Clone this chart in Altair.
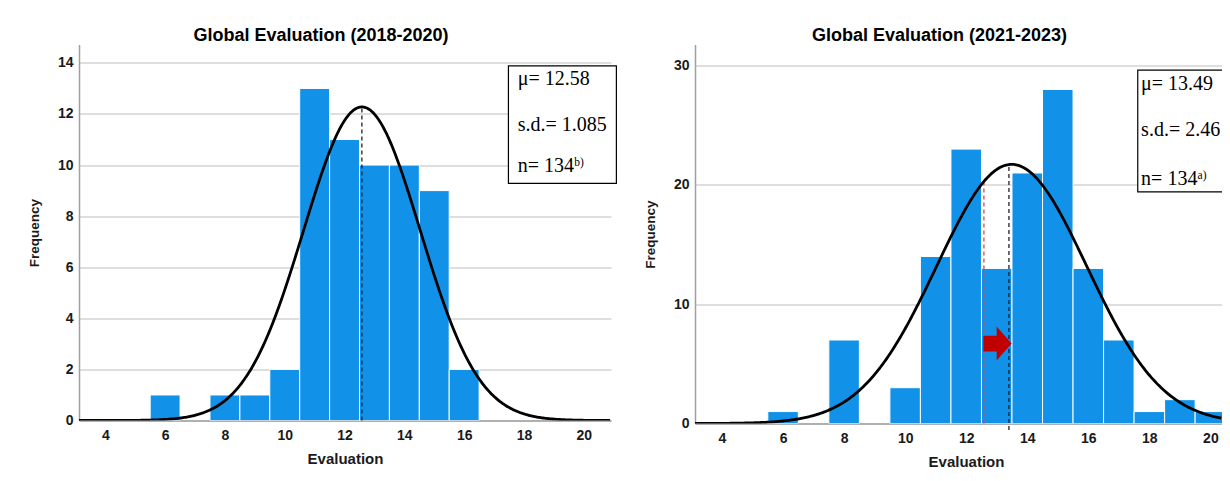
import altair as alt
import pandas as pd

# ---------------- values ----------------
LEFT_VALUES = [6, 8, 9, 10, 11, 12, 13, 14, 15, 16]
LEFT_COUNTS = [1, 1, 1, 2, 13, 11, 10, 10, 9, 2]
RIGHT_VALUES = [6, 8, 10, 11, 12, 13, 14, 15, 16, 17, 18, 19, 20]
RIGHT_COUNTS = [1, 7, 3, 14, 23, 13, 21, 28, 13, 7, 1, 2, 1]

X_TICKS = [4, 6, 8, 10, 12, 14, 16, 18, 20]
LEFT_Y_TICKS = [0, 2, 4, 6, 8, 10, 12, 14]
RIGHT_Y_TICKS = [0, 10, 20, 30]

TITLES = ["Global Evaluation (2018-2020)", "Global Evaluation (2021-2023)"]
X_TITLE = "Evaluation"
Y_TITLE = "Frequency"

# fitted normal curves as drawn: mean, sd, count
LEFT_CURVE = [12.58, 1.95, 60]
RIGHT_CURVE = [13.49, 2.461, 134]

LEFT_STATS = ["μ= 12.58", "s.d.= 1.085", "n= 134"]
RIGHT_STATS = ["μ= 13.49", "s.d.= 2.461", "n= 134"]
LEFT_SUP = "b)"
RIGHT_SUP = "a)"

# mean markers: x, bottom, top
LEFT_MEAN_LINE = [12.58, 0.0, 12.28]
RIGHT_MEAN_LINE = [13.40, -0.55, 21.72]
RIGHT_PREV_MEAN_LINE = [12.58, 0.0, 20.3]
# arrow: from x, to x, at y
RIGHT_ARROW = [12.58, 13.47, 6.7]

# ---------------- layout (scale domains, annotation anchors) ----------------
LEFT_XDOM = [3.12, 20.91]
LEFT_YDOM = [0, 14.72]
RIGHT_XDOM = [3.115, 20.38]
RIGHT_YDOM = [0, 31.77]
LEFT_W, LEFT_H = 532, 376
RIGHT_W, RIGHT_H = 527, 379

LEFT_BOX = [17.48, 21.09, 9.28, 13.88]    # x, x2, y, y2
RIGHT_BOX = [17.62, 22.0, 19.42, 29.62]
LEFT_TEXT_X = 17.79
LEFT_TEXT_Y = [13.13, 11.34, 9.73]
RIGHT_TEXT_X = 17.73
RIGHT_TEXT_Y = [27.95, 24.09, 20.03]

BAR_COLOR = "#1192e8"
FONT = "Liberation Sans"
SERIF = "Liberation Serif"
ARROW_PATH = "M-0.83,-0.46 L-0.05,-0.46 L-0.05,-1 L0.83,0 L-0.05,1 L-0.05,0.46 L-0.83,0.46 Z"


def make_axes(yticks, x_title_x):
    xkw = dict(
        values=X_TICKS, title=X_TITLE, grid=False, ticks=False, tickSize=0,
        labelPadding=7.5, titlePadding=9.5, domainColor="#a0a0a0", domainWidth=1.5,
        labelFont=FONT, labelFontSize=14, labelFontWeight="bold", labelColor="#1a1a1a",
        titleFont=FONT, titleFontSize=15, titleFontWeight="bold", titleColor="#1a1a1a",
        format="d",
    )
    if x_title_x is not None:
        xkw["titleX"] = x_title_x
        xkw["titleAlign"] = "center"
    xaxis = alt.Axis(**xkw)
    yaxis = alt.Axis(
        values=yticks, title=Y_TITLE, grid=True, gridColor="#d3d3d3", gridWidth=1.5,
        ticks=False, tickSize=0, labelPadding=6, titlePadding=15.5,
        domainColor="#a0a0a0", domainWidth=1.5,
        labelFont=FONT, labelFontSize=14, labelFontWeight="bold", labelColor="#1a1a1a",
        titleFont=FONT, titleFontSize=13.5, titleFontWeight="bold", titleColor="#1a1a1a",
        format="d",
    )
    return xaxis, yaxis


def panel(values, counts, xdom, ydom, yticks, w, h, title, title_dx, x_title_x, curve,
          stats, sup, box, text_x, text_y, mean_lines, arrow, clip):
    xaxis, yaxis = make_axes(yticks, x_title_x)
    xs = alt.Scale(domain=xdom, nice=False, zero=False)
    ys = alt.Scale(domain=ydom, nice=False, zero=False)

    def X(f):
        return alt.X(f, type="quantitative", scale=xs, axis=xaxis)

    def Y(f):
        return alt.Y(f, type="quantitative", scale=ys, axis=yaxis)

    bars_df = pd.DataFrame({"v": values, "count": counts})
    bars = (
        alt.Chart(bars_df)
        .transform_calculate(lo="datum.v - 0.5", hi="datum.v + 0.5", base="0")
        .mark_rect(color=BAR_COLOR, stroke="white", strokeWidth=1, clip=True)
        .encode(x=X("lo"), x2="hi:Q", y=Y("count"), y2="base:Q")
    )

    mu, sd, n = curve
    curve_chart = (
        alt.Chart(alt.sequence(xdom[0], xdom[1] + 0.001, 0.04, as_="x"))
        .transform_calculate(
            f=f"{n} * exp(-0.5 * pow((datum.x - {mu}) / {sd}, 2)) / ({sd} * sqrt(2 * PI))"
        )
        .mark_line(color="black", strokeWidth=2.8, clip=True)
        .encode(x=X("x"), y=Y("f"))
    )

    layers = [bars]

    mean_df = pd.DataFrame(
        {"x": [m[0] for m in mean_lines], "y": [m[1] for m in mean_lines],
         "y2": [m[2] for m in mean_lines], "c": [m[3] for m in mean_lines]}
    )
    means = (
        alt.Chart(mean_df)
        .mark_rule(strokeDash=[4, 3], strokeWidth=1.3)
        .encode(x=X("x"), y=Y("y"), y2="y2:Q",
                color=alt.Color("c:N", scale=None, legend=None))
    )
    layers.append(means)

    if arrow is not None:
        adf = pd.DataFrame({"x": [(arrow[0] + arrow[1]) / 2], "y": [arrow[2]]})
        layers.append(
            alt.Chart(adf)
            .mark_point(shape=ARROW_PATH, size=1156, filled=True, color="#c00000",
                        opacity=1, strokeWidth=0)
            .encode(x=X("x"), y=Y("y"))
        )

    layers.append(curve_chart)

    box_df = pd.DataFrame({"x": [box[0]], "x2": [box[1]], "y": [box[2]], "y2": [box[3]]})
    layers.append(
        alt.Chart(box_df)
        .mark_rect(fill="white", stroke="black", strokeWidth=1.2, clip=clip)
        .encode(x=X("x"), x2="x2:Q", y=Y("y"), y2="y2:Q")
    )

    txt_df = pd.DataFrame({"x": [text_x] * len(stats), "y": text_y, "label": stats})
    layers.append(
        alt.Chart(txt_df)
        .mark_text(font=SERIF, fontSize=20, align="left", baseline="alphabetic",
                   color="black", clip=clip)
        .encode(x=X("x"), y=Y("y"), text="label:N")
    )
    sup_df = pd.DataFrame({"x": [text_x], "y": [text_y[-1]], "label": [sup]})
    layers.append(
        alt.Chart(sup_df)
        .mark_text(font=SERIF, fontSize=11.5, align="left", baseline="alphabetic",
                   color="black", dx=56.5, dy=-6, clip=clip)
        .encode(x=X("x"), y=Y("y"), text="label:N")
    )

    return alt.layer(*layers).properties(
        width=w, height=h,
        title=alt.TitleParams(
            text=title, font=FONT, fontSize=18, fontWeight="bold", color="black",
            anchor="middle", frame="group", dx=title_dx, offset=-14, baseline="alphabetic",
        ),
    )


left = panel(
    LEFT_VALUES, LEFT_COUNTS, LEFT_XDOM, LEFT_YDOM, LEFT_Y_TICKS, LEFT_W, LEFT_H,
    TITLES[0], -24, None, LEFT_CURVE, LEFT_STATS, LEFT_SUP, LEFT_BOX, LEFT_TEXT_X,
    LEFT_TEXT_Y, [LEFT_MEAN_LINE + ["#222222"]], None, False,
)
right = panel(
    RIGHT_VALUES, RIGHT_COUNTS, RIGHT_XDOM, RIGHT_YDOM, RIGHT_Y_TICKS, RIGHT_W, RIGHT_H,
    TITLES[1], -19, 271, RIGHT_CURVE, RIGHT_STATS, RIGHT_SUP, RIGHT_BOX, RIGHT_TEXT_X,
    RIGHT_TEXT_Y, [RIGHT_MEAN_LINE + ["#222222"], RIGHT_PREV_MEAN_LINE + ["#d9474f"]],
    RIGHT_ARROW, True,
)

chart = (
    alt.hconcat(left, right, spacing=84, bounds="flush")
    .properties(padding={"left": 19, "top": 18.5, "right": 0, "bottom": 0}, background="white")
    .configure_view(stroke=None)
)

chart.save("out.html", embed_options={"renderer": "svg", "actions": False})
